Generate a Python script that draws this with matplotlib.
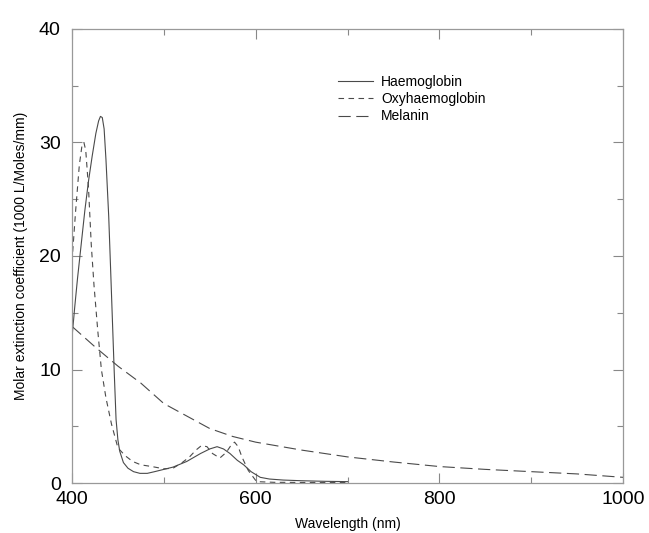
import matplotlib
matplotlib.use("Agg")
import matplotlib.pyplot as plt
from matplotlib.ticker import MultipleLocator

# Haemoglobin (solid)
hb_wl = [400, 403, 406, 410, 414, 418, 422, 426, 429, 431, 433, 435, 437, 440, 442, 444, 446, 448,
         450, 452, 456, 461, 467, 474, 482, 490, 500, 510, 525, 540, 550, 558, 565, 572, 580,
         587, 595, 605, 615, 630, 650, 675, 700]
hb_val = [12.8, 15.5, 18.0, 21.0, 24.0, 26.6, 28.8, 30.8, 31.9, 32.3, 32.2, 31.2, 28.5, 23.5, 19.0, 14.4, 9.8, 5.6,
          3.8, 2.8, 1.8, 1.3, 1.0, 0.85, 0.85, 1.0, 1.2, 1.4, 1.9, 2.6, 3.0, 3.2, 3.0, 2.6, 2.0,
          1.6, 1.0, 0.5, 0.35, 0.26, 0.2, 0.15, 0.12]

# Oxyhaemoglobin (short dashes)
oxy_wl = [400, 404, 408, 411, 413, 415, 418, 421, 424, 428, 432, 437, 443, 450, 458, 466,
          475, 487, 500, 510, 520, 528, 535, 541, 547, 553, 561, 568, 573, 577, 581,
          585, 592, 601, 620, 650, 700]
oxy_val = [19.5, 24.0, 28.0, 29.8, 30.0, 29.3, 26.0, 21.0, 17.4, 13.5, 10.0, 7.5, 5.2, 3.1, 2.4, 1.9,
           1.6, 1.45, 1.25, 1.3, 1.8, 2.3, 2.9, 3.3, 3.2, 2.6, 2.2, 2.7, 3.3, 3.6, 3.2,
           2.3, 1.1, 0.12, 0.06, 0.05, 0.05]

# Melanin (long dashes)
mel_wl = [400, 425, 450, 475, 500, 525, 550, 575, 600, 650, 700, 750, 800, 850, 900, 950, 1000]
mel_val = [13.8, 12.0, 10.3, 8.8, 7.0, 5.9, 4.8, 4.1, 3.6, 2.9, 2.3, 1.85, 1.45, 1.2, 1.0, 0.8, 0.5]

series_labels = ["Haemoglobin", "Oxyhaemoglobin", "Melanin"]
x_ticks = [400, 600, 800, 1000]
y_ticks = [0, 10, 20, 30, 40]

plt.rcParams['font.family'] = ['Liberation Sans', 'DejaVu Sans']

fig = plt.figure(figsize=(6.49, 5.33), dpi=100)
ax = fig.add_axes([0.1109, 0.0938, 0.8491, 0.8518])

lc = '#4a4a4a'
ax.plot(hb_wl, hb_val, color=lc, lw=0.8, label=series_labels[0])
ax.plot(oxy_wl, oxy_val, color=lc, lw=0.8, dashes=(5, 4), label=series_labels[1])
ax.plot(mel_wl, mel_val, color=lc, lw=0.8, dashes=(11, 5), label=series_labels[2])

ax.set_xlim(400, 1000)
ax.set_ylim(0, 40)
ax.set_xticks(x_ticks)
ax.set_yticks(y_ticks)
ax.xaxis.set_minor_locator(MultipleLocator(100))
ax.yaxis.set_minor_locator(MultipleLocator(5))
ax.tick_params(which='both', direction='in', top=True, right=True, colors='#888888',
               labelcolor='black', labelsize=14, width=0.8)
ax.tick_params(which='major', length=7)
ax.tick_params(which='minor', length=4)
ax.tick_params(axis='y', pad=8)
ax.tick_params(axis='x', pad=6)
for s in ax.spines.values():
    s.set_color('#999999')
    s.set_linewidth(0.9)

ax.set_xlabel("Wavelength (nm)", fontsize=10, labelpad=6)
ax.set_ylabel("Molar extinction coefficient (1000 L/Moles/mm)", fontsize=10, labelpad=8)

leg = ax.legend(loc='upper left', bbox_to_anchor=(0.473, 0.912), frameon=False,
                fontsize=10, handlelength=2.5, handletextpad=0.6, labelspacing=0.25,
                borderaxespad=0)

fig.savefig("out.png", dpi=100)
